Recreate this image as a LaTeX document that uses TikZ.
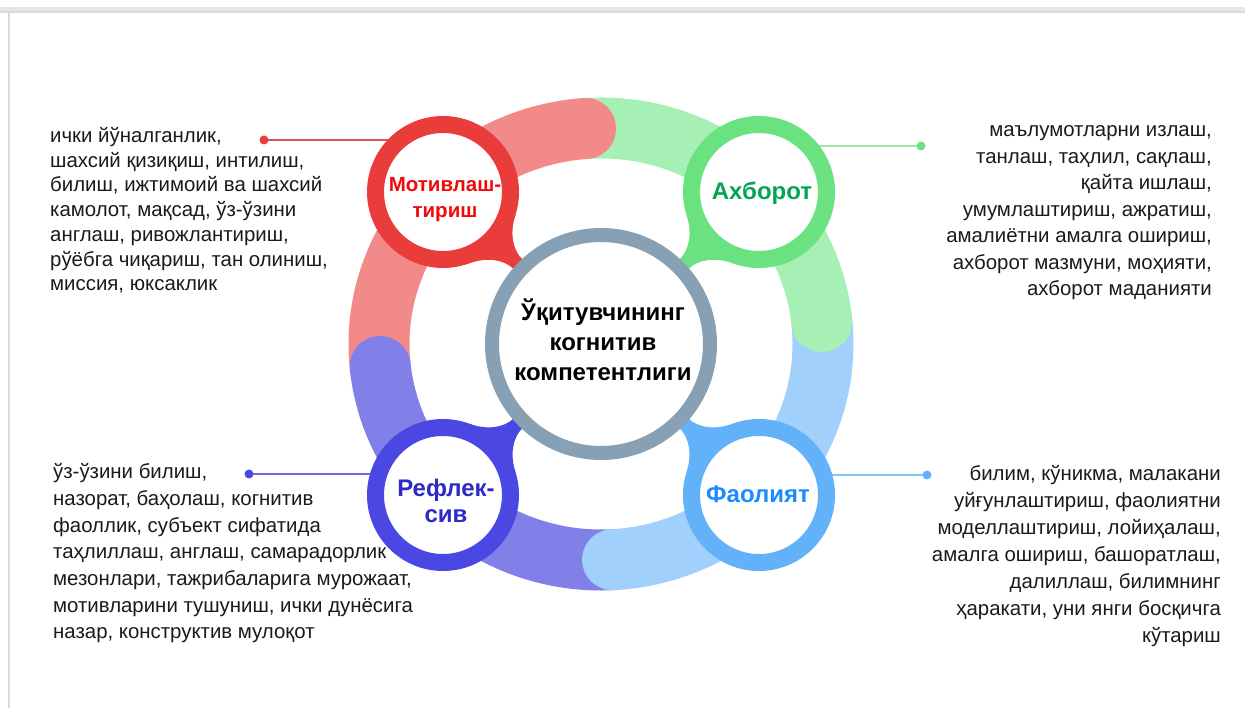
\documentclass[tikz,border=0pt]{standalone}
\usepackage{fontspec}
\setmainfont{Liberation Sans}
\usetikzlibrary{calc}
\pgfdeclarelayer{bg}
\pgfsetlayers{bg,main}
\definecolor{cred}{HTML}{F28A8A}
\definecolor{cgreen}{HTML}{A6F0B6}
\definecolor{clblue}{HTML}{A2D0FD}
\definecolor{cpurple}{HTML}{8080E8}
\definecolor{smred}{HTML}{EB3C3C}
\definecolor{smgreen}{HTML}{6BE280}
\definecolor{smblue}{HTML}{4A47E2}
\definecolor{smlblue}{HTML}{62B1F9}
\definecolor{cgray}{HTML}{87A0B3}
\definecolor{tred}{HTML}{F20A0A}
\definecolor{tgreen}{HTML}{00A651}
\definecolor{tblue}{HTML}{2B2BC8}
\definecolor{tlblue}{HTML}{1A8CFF}
\definecolor{txt}{HTML}{1A1A1A}
\definecolor{lred}{HTML}{E05050}
\definecolor{lgreen}{HTML}{9EE6AA}
\definecolor{lblue}{HTML}{6A6AE0}
\definecolor{llblue}{HTML}{8AC4F8}
\definecolor{framegray}{HTML}{E6E6E6}
\definecolor{framedark}{HTML}{DADADA}
\begin{document}
\begin{tikzpicture}[x=1pt,y=1pt,
  desc/.style={inner sep=0pt, text=txt},
  ringnode/.style={circle, inner sep=0pt, minimum size=135pt, line width=17pt, fill=white},
  title/.style={inner sep=0pt, align=center, anchor=base},
  dotnode/.style={circle, inner sep=0pt, minimum size=9pt},
  seg/.style={line width=61pt},
  conn/.style={line width=1.2pt}
]
\useasboundingbox (0,0) rectangle (1245,-708);
\coordinate (C) at (601,-344);
% central circle
\node[circle, inner sep=0pt, minimum size=218pt, line width=14pt, draw=cgray, fill=white] (core) at (C) {};
% small circles
\node[ringnode, draw=smred] (mot) at (443,-192) {};
\node[ringnode, draw=smgreen] (axb) at (759,-192) {};
\node[ringnode, draw=smblue] (ref) at (443,-495) {};
\node[ringnode, draw=smlblue] (fao) at (759,-495) {};
% titles (base anchor = baseline of last line)
\node[title, text=tred, font=\bfseries\fontsize{20.5}{25.5}\selectfont] (tmot) at (445,-217.5) {Мотивлаш-\\тириш};
\node[title, text=tgreen, font=\bfseries\fontsize{24}{28}\selectfont] (taxb) at (762,-200) {Ахборот};
\node[title, text=tblue, font=\bfseries\fontsize{24}{26.5}\selectfont] (tref) at (446,-522.5) {Рефлек-\\сив};
\node[title, text=tlblue, font=\bfseries\fontsize{24}{28}\selectfont] (tfao) at (758,-502) {Фаолият};
\node[title, text=black, font=\bfseries\fontsize{24}{30}\selectfont] (ctext) at (603,-381) {Ўқитувчининг\\когнитив\\компетентлиги};
% dots
\node[dotnode, fill=smred] (dmot) at (264,-140) {};
\node[dotnode, fill=smgreen] (daxb) at (921,-146) {};
\node[dotnode, fill=smblue] (dref) at (249,-474) {};
\node[dotnode, fill=smlblue] (dfao) at (927,-475) {};
% description texts
\node[desc, anchor=base west, align=left, font=\fontsize{20.4}{24.7}\selectfont] (xmot) at (50,-290.8) {ички йўналганлик,\\шахсий қизиқиш, интилиш,\\билиш, ижтимоий ва шахсий\\камолот, мақсад, ўз-ўзини\\англаш, ривожлантириш,\\рўёбга чиқариш, тан олиниш,\\миссия, юксаклик};
\node[desc, anchor=base east, align=right, font=\fontsize{20.4}{26.5}\selectfont] (xaxb) at (1212,-296) {маълумотларни излаш,\\танлаш, таҳлил, сақлаш,\\қайта ишлаш,\\умумлаштириш, ажратиш,\\амалиётни амалга ошириш,\\ахборот мазмуни, моҳияти,\\ахборот маданияти};
\node[desc, anchor=base west, align=left, font=\fontsize{20.4}{26.7}\selectfont] (xref) at (53,-638.8) {ўз-ўзини билиш,\\назорат, баҳолаш, когнитив\\фаоллик, субъект сифатида\\таҳлиллаш, англаш, самарадорлик\\мезонлари, тажрибаларига мурожаат,\\мотивларини тушуниш, ички дунёсига\\назар, конструктив мулоқот};
\node[desc, anchor=base east, align=right, font=\fontsize{20.4}{27}\selectfont] (xfao) at (1221,-642.3) {билим, кўникма, малакани\\уйғунлаштириш, фаолиятни\\моделлаштириш, лойиҳалаш,\\амалга ошириш, башоратлаш,\\далиллаш, билимнинг\\ҳаракати, уни янги босқичга\\кўтариш};
\begin{pgfonlayer}{bg}
% frame
\fill[framegray] (0,-7) rectangle (1245,-12.7);
\fill[framedark] (0,-11.3) rectangle (1245,-12.7);
\fill[framedark] (8.3,-12.7) rectangle (10,-708);
% big ring segments
\draw[seg, cred] ($(C)+(186:222 and 216)$) arc[start angle=186, end angle=94, x radius=222, y radius=216];
\draw[seg, cgreen] ($(C)+(94:222 and 216)$) arc[start angle=94, end angle=6, x radius=222, y radius=216];
\draw[seg, clblue] ($(C)+(6:222 and 216)$) arc[start angle=6, end angle=-87, x radius=222, y radius=216];
\draw[seg, cpurple] ($(C)+(-87:222 and 216)$) arc[start angle=-87, end angle=-174, x radius=222, y radius=216];
\fill[cred] ($(C)+(94:222 and 216)$) circle[radius=30.5];
\fill[cgreen] ($(C)+(6:222 and 216)$) circle[radius=30.5];
\fill[clblue] ($(C)+(-87:222 and 216)$) circle[radius=30.5];
\fill[cpurple] ($(C)+(-174:222 and 216)$) circle[radius=30.5];
% connectors
\draw[conn, lred] (dmot.center) -- (dmot.center -| mot.center);
\draw[conn, lgreen] (daxb.center) -- (daxb.center -| axb.center);
\draw[conn, lblue] (dref.center) -- (dref.center -| ref.center);
\draw[conn, llblue] (dfao.center) -- (dfao.center -| fao.center);
% necks
\begin{scope}[shift={(mot.center)}, rotate=-43.9]
\fill[smred] (26:76) .. controls (76.2,17.1) and (90,6.5) .. (104,6.5) -- (114,6.5) -- (114,-6.5) -- (104,-6.5) .. controls (90,-6.5) and (76.2,-17.1) .. (-26:76) -- (0,0) -- cycle;
\end{scope}
\begin{scope}[shift={(axb.center)}, rotate=-136.1]
\fill[smgreen] (26:76) .. controls (76.2,17.1) and (90,6.5) .. (104,6.5) -- (114,6.5) -- (114,-6.5) -- (104,-6.5) .. controls (90,-6.5) and (76.2,-17.1) .. (-26:76) -- (0,0) -- cycle;
\end{scope}
\begin{scope}[shift={(ref.center)}, rotate=43.7]
\fill[smblue] (26:76) .. controls (76.2,17.1) and (90,6.5) .. (104,6.5) -- (114,6.5) -- (114,-6.5) -- (104,-6.5) .. controls (90,-6.5) and (76.2,-17.1) .. (-26:76) -- (0,0) -- cycle;
\end{scope}
\begin{scope}[shift={(fao.center)}, rotate=136.3]
\fill[smlblue] (26:76) .. controls (76.2,17.1) and (90,6.5) .. (104,6.5) -- (114,6.5) -- (114,-6.5) -- (104,-6.5) .. controls (90,-6.5) and (76.2,-17.1) .. (-26:76) -- (0,0) -- cycle;
\end{scope}
\end{pgfonlayer}
\end{tikzpicture}
\end{document}
